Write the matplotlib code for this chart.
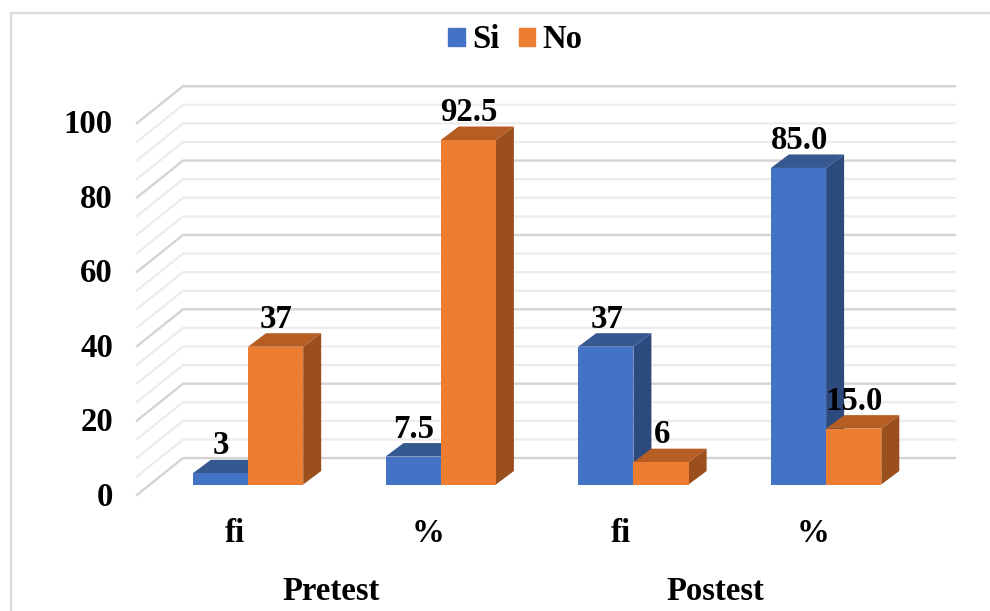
import matplotlib
matplotlib.use("Agg")
import matplotlib.pyplot as plt
from matplotlib.patches import Rectangle

plt.rcParams['font.family'] = ['Liberation Serif', 'DejaVu Serif']

categories = ['fi', '%', 'fi', '%']
groups = ['Pretest', 'Postest']
si_values = [3, 7.5, 37, 85.0]
no_values = [37, 92.5, 6, 15.0]
si_labels = ['3', '7.5', '37', '85.0']
no_labels = ['37', '92.5', '6', '15.0']
y_ticks = [0, 20, 40, 60, 80, 100]

W, H = 990, 611
PX_X0, PX_XU = 248.0, 192.7      # pixel of category 0, pixels per category
PX_Y0, PX_YU = 484.5, 3.724      # pixel of value 0, pixels per value unit
fx = lambda px: (px - PX_X0) / PX_XU
fy = lambda py: (PX_Y0 - py) / PX_YU
FS = 23.6

fig = plt.figure(figsize=(W / 100, H / 100), dpi=100)
ax = fig.add_axes([0, 0, 1, 1])
ax.set_xlim(fx(0), fx(W))
ax.set_ylim(fy(H), fy(0))
ax.axis('off')

# chart frame: left and top edges only are visible
ax.plot([fx(11), fx(11), fx(W)], [fy(H), fy(13), fy(13)], color='#dcdcdc', lw=1.6, zorder=0,
        solid_joinstyle='miter')

# back wall and side wall gridlines
wall_x0, wall_x1, wall_x2 = fx(137), fx(183), fx(955)
low, high = -2.8, 7.1
for v in range(0, 101, 5):
    major = v % 20 == 0
    c = '#d4d4d4' if major else '#ececec'
    lw = 1.7 if major else 1.6
    ax.plot([wall_x0, wall_x1, wall_x2], [v * 0.9985 + low, v * 0.9985 + high, v * 0.9985 + high],
            color=c, lw=lw, zorder=1, solid_joinstyle='miter')

# 3D bars
bw = 55.2 / PX_XU
dx = 18.0 / PX_XU
dy = 13.5 / PX_YU
series = [('Si', si_values, si_labels, -bw / 2, '#4472C4', '#34588F', '#2C4A7E'),
          ('No', no_values, no_labels, bw / 2, '#ED7D31', '#B55D22', '#9A4F1D')]
z = 2
for i in range(len(categories)):
    for name, vals, labs, off, front, top, side in series:
        x = i + off
        v = vals[i]
        l, r = x - bw / 2, x + bw / 2
        ax.fill([r, r + dx, r + dx, r], [0, dy, v + dy, v], color=side, lw=0, zorder=z)
        ax.fill([l, l + dx, r + dx, r], [v, v + dy, v + dy, v], color=top, lw=0, zorder=z)
        ax.bar(x, v, bw, color=front, lw=0, zorder=z + 0.5)
        z += 1

lab_kw = dict(ha='center', va='center', fontsize=FS, fontweight='bold', color='black', zorder=100)
for name, vals, labs, off, front, top, side in series:
    for i, (v, t) in enumerate(zip(vals, labs)):
        ax.text(i + off + 0.004, v + 7.4, t, **lab_kw)

# axis labels
for v in y_ticks:
    ax.text(fx(113), v + fy(497), str(v), ha='right', va='center', fontsize=FS,
            fontweight='bold', zorder=100)
for i, c in enumerate(categories):
    ax.text(i + fx(235), fy(533), c, ha='center', va='center', fontsize=FS, fontweight='bold')
for g, px in zip(groups, [331, 715]):
    ax.text(fx(px), fy(591), g, ha='center', va='center', fontsize=FS, fontweight='bold')

# legend
handles = [Rectangle((0, 0), 1, 1, color=s[4]) for s in series]
fig.legend(handles, [s[0] for s in series], ncol=2, loc='center',
           bbox_to_anchor=(515.5 / W, 1 - 40 / H), frameon=False,
           prop={'family': 'Liberation Serif', 'weight': 'bold', 'size': FS},
           handlelength=0.5, handleheight=0.5, handletextpad=0.24, columnspacing=0.57,
           borderpad=0)

fig.savefig('out.png', dpi=100, facecolor='white')
